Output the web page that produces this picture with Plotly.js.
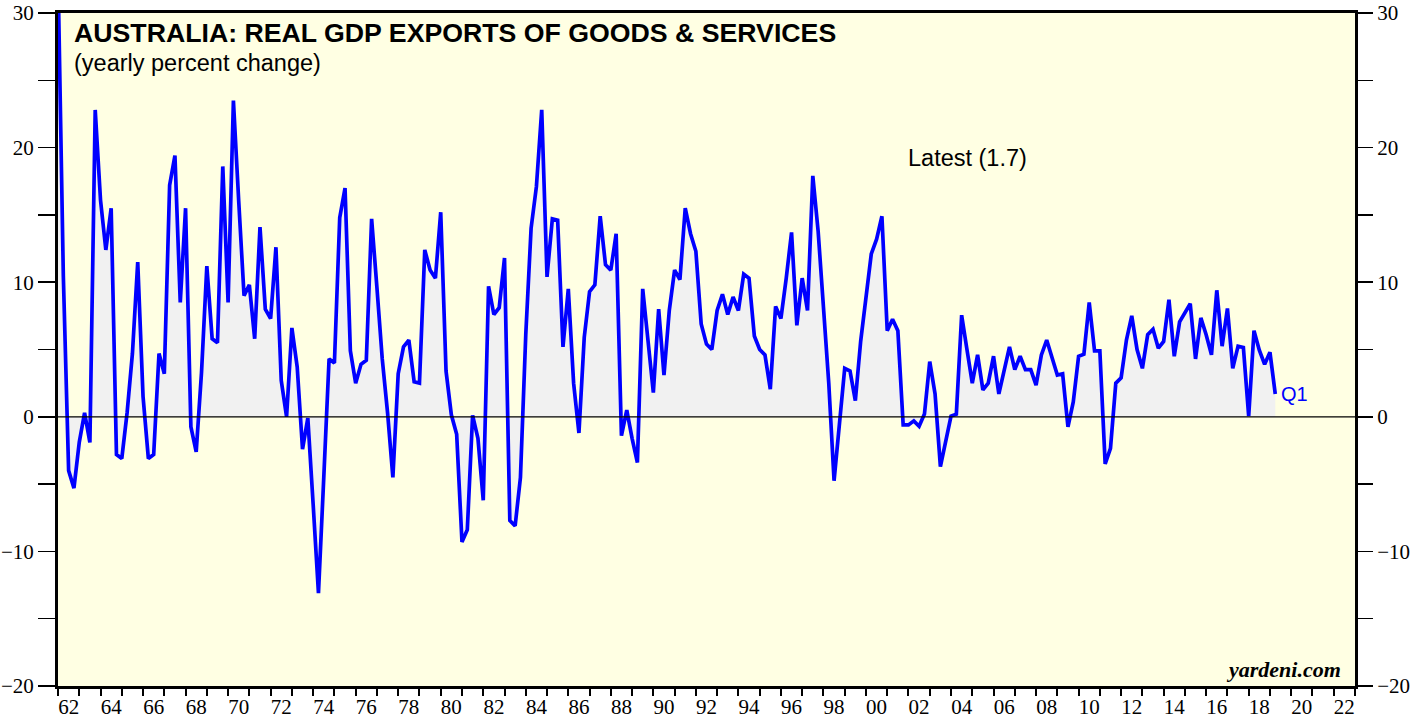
<!DOCTYPE html>
<html>
<head>
<meta charset="utf-8">
<script src="https://cdn.plot.ly/plotly-3.0.1.min.js"></script>
<style>html,body{margin:0;padding:0;background:#fff;}#chart{width:1419px;height:719px;}</style>
</head>
<body>
<div id="chart"></div>
<script>
// Australia: real GDP exports of goods & services, yearly % change, quarterly
// First value is 1961 Q4; each value is plotted at the end of its quarter.
const firstQuarter = {year: 1961, quarter: 4};
const exports1960s = [33,
  10.5, -4.0, -5.3, -1.9,   0.3, -1.9, 22.8, 16.1,   12.4, 15.5, -2.8, -3.1,
  0.3, 4.7, 11.5, 1.5,      -3.1, -2.8, 4.7, 3.2,    17.2, 19.4, 8.5, 15.5,
  -0.75, -2.6, 3.3, 11.2,   5.8, 5.5, 18.6, 8.5];
const exports1970s = [
  23.5, 16.0, 9.0, 9.8,     5.8, 14.1, 8.0, 7.3,     12.6, 2.7, 0.0, 6.6,
  3.7, -2.4, -0.1, -6.5,    -13.1, -4.5, 4.3, 4.0,   14.8, 17.0, 4.9, 2.5,
  3.9, 4.2, 14.7, 9.6,      4.3, 0.3, -4.5, 3.2,     5.2, 5.7, 2.6, 2.5,
  12.4, 10.9, 10.3, 15.2];
const exports1980s = [
  3.4, 0.15, -1.3, -9.3,    -8.4, 0.1, -1.6, -6.2,   9.7, 7.6, 8.1, 11.8,
  -7.7, -8.1, -4.5, 6.1,    14.0, 17.1, 22.8, 10.4,  14.7, 14.6, 5.2, 9.5,
  2.5, -1.2, 5.9, 9.3,      9.8, 14.9, 11.3, 10.9,   13.6, -1.4, 0.5, -1.6,
  -3.4, 9.5, 5.6, 1.8];
const exports1990s = [
  8.0, 3.1, 7.9, 10.9,      10.2, 15.5, 13.6, 12.3,  6.9, 5.4, 5.0, 7.9,
  9.1, 7.6, 8.9, 7.9,       10.6, 10.3, 6.0, 5.0,    4.6, 2.05, 8.2, 7.3,
  10.3, 13.7, 6.8, 10.3,    7.9, 17.9, 13.8, 8.0,    2.5, -4.75, -0.5, 3.6,
  3.4, 1.2, 5.6, 8.6];
const exports2000s = [
  12.1, 13.2, 14.9, 6.4,    7.25, 6.4, -0.6, -0.6,   -0.3, -0.7, 0.2, 4.1,
  1.7, -3.7, -1.9, 0.05,    0.2, 7.55, 5.0, 2.5,     4.6, 2.0, 2.5, 4.5,
  1.7, 3.5, 5.2, 3.5,       4.5, 3.5, 3.5, 2.35,     4.6, 5.7, 4.5, 3.1,
  3.2, -0.75, 1.1, 4.5];
const exports2010s = [
  4.65, 8.5, 4.9, 4.9,      -3.5, -2.35, 2.5, 2.9,   5.7, 7.5, 5.0, 3.6,
  6.1, 6.5, 5.1, 5.6,       8.7, 4.5, 7.05, 7.7,     8.4, 4.3, 7.35, 6.1,
  4.6, 9.4, 5.25, 8.05,     3.6, 5.25, 5.15, 0.05,   6.4, 4.95, 3.9, 4.8,
  1.7];

const yearLabels = ['62','64','66','68','70','72','74','76','78','80','82','84','86','88','90','92',
  '94','96','98','00','02','04','06','08','10','12','14','16','18','20','22'];
const labelYears = [1962,1964,1966,1968,1970,1972,1974,1976,1978,1980,1982,1984,1986,1988,1990,1992,
  1994,1996,1998,2000,2002,2004,2006,2008,2010,2012,2014,2016,2018,2020,2022];
const latestText = 'Latest (1.7)';
const latestQuarter = 'Q1';

const values = [].concat(exports1960s, exports1970s, exports1980s, exports1990s, exports2000s, exports2010s);
const start = firstQuarter.year + firstQuarter.quarter / 4; // quarter-end as decimal year
const dates = values.map((_, i) => start + i * 0.25);

const serif = 'Liberation Serif, Times New Roman, serif';
const sans = 'Liberation Sans, Arial, sans-serif';

const traces = [
  {x: dates, y: values, type: 'scatter', mode: 'lines', fill: 'tozeroy',
   fillcolor: '#F1F1F1', line: {width: 0, color: 'rgba(0,0,0,0)'}, hoverinfo: 'skip'},
  {x: dates, y: values, type: 'scatter', mode: 'lines',
   line: {color: '#0000FF', width: 3.7}},
  {x: [], y: [], type: 'scatter', mode: 'lines', yaxis: 'y2', hoverinfo: 'skip'}
];

const tickStyle = {family: serif, size: 21, color: 'black'};

const layout = {
  width: 1419, height: 719,
  margin: {l: 58, r: 64, t: 13, b: 33, pad: 0},
  paper_bgcolor: '#FFFFFF',
  plot_bgcolor: '#FFFFE3',
  showlegend: false,
  xaxis: {
    range: [1962, 2023], showgrid: false, zeroline: false,
    showline: true, linecolor: 'black', linewidth: 3, mirror: true,
    tickmode: 'array', tickvals: labelYears.map(y => y + 0.5), ticktext: yearLabels,
    ticks: '', tickfont: tickStyle,
    minor: {tickmode: 'linear', tick0: 1962, dtick: 1, ticks: 'outside', ticklen: 7,
            tickwidth: 2, tickcolor: 'black', showgrid: false}
  },
  yaxis: {
    range: [-20, 30], tickmode: 'linear', tick0: 0, dtick: 10,
    ticks: 'outside', ticklen: 17, tickwidth: 1.5, tickcolor: 'black',
    showgrid: false, zeroline: false,
    showline: true, linecolor: 'black', linewidth: 3, mirror: true,
    tickfont: tickStyle,
    minor: {tickmode: 'linear', tick0: 0, dtick: 5, ticks: 'outside', ticklen: 17,
            tickwidth: 1.5, tickcolor: 'black', showgrid: false}
  },
  yaxis2: {
    overlaying: 'y', side: 'right', range: [-20, 30], tickmode: 'linear', tick0: 0, dtick: 10,
    ticks: 'outside', ticklen: 17, tickwidth: 1.5, tickcolor: 'black',
    showgrid: false, zeroline: false, showline: false,
    tickfont: tickStyle,
    minor: {tickmode: 'linear', tick0: 0, dtick: 5, ticks: 'outside', ticklen: 17,
            tickwidth: 1.5, tickcolor: 'black', showgrid: false}
  },
  shapes: [
    {type: 'line', xref: 'paper', x0: 0, x1: 1, yref: 'y', y0: 0, y1: 0,
     line: {color: 'black', width: 1.2}, layer: 'above'}
  ],
  annotations: [
    {text: '<b>AUSTRALIA: REAL GDP EXPORTS OF GOODS &amp; SERVICES</b>', xref: 'paper', yref: 'y',
     x: 0.0108, y: 28.5, xanchor: 'left', yanchor: 'middle', showarrow: false,
     font: {family: sans, size: 26.7, color: 'black'}},
    {text: '(yearly percent change)', xref: 'paper', yref: 'y',
     x: 0.0108, y: 26.3, xanchor: 'left', yanchor: 'middle', showarrow: false,
     font: {family: sans, size: 23.5, color: 'black'}},
    {text: latestText, xref: 'x', yref: 'y', x: 2001.9, y: 19.2,
     xanchor: 'left', yanchor: 'middle', showarrow: false,
     font: {family: sans, size: 23.5, color: 'black'}},
    {text: latestQuarter, xref: 'x', yref: 'y', x: dates[dates.length - 1], y: values[values.length - 1],
     xanchor: 'left', yanchor: 'middle', xshift: 4, showarrow: false,
     font: {family: sans, size: 20, color: '#0000FF'}},
    {text: '<b><i>yardeni.com</i></b>', xref: 'paper', yref: 'y', x: 0.9907, y: -18.8,
     xanchor: 'right', yanchor: 'middle', showarrow: false,
     font: {family: serif, size: 22, color: 'black'}}
  ]
};

Plotly.newPlot('chart', traces, layout, {displayModeBar: false, staticPlot: true});
</script>
</body>
</html>
